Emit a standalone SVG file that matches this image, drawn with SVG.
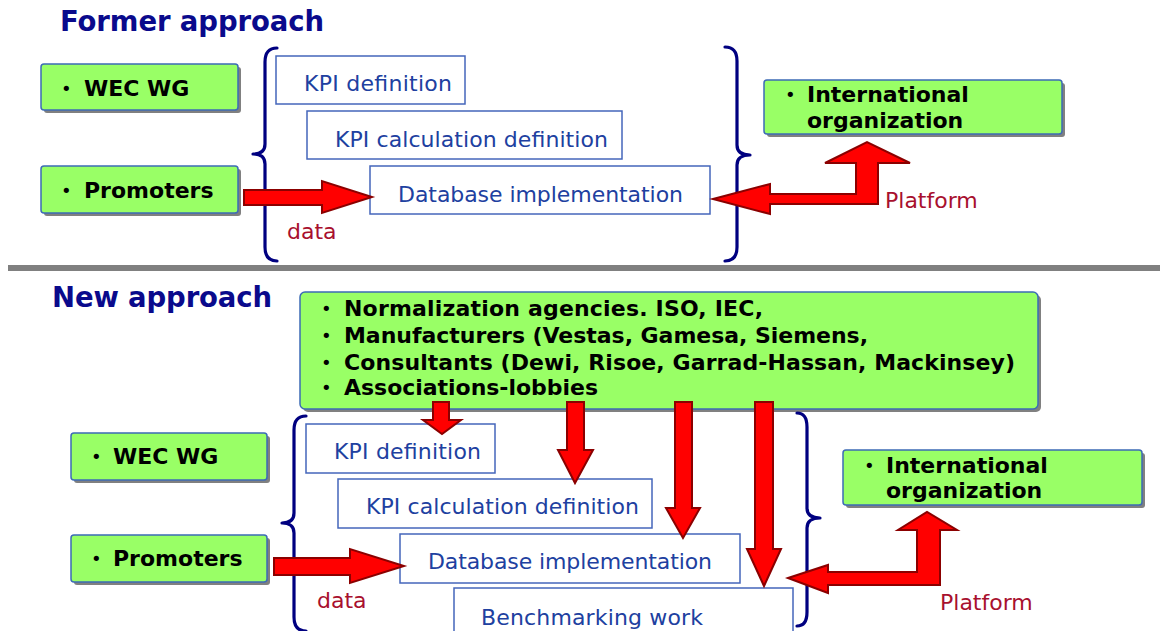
<svg xmlns="http://www.w3.org/2000/svg" width="1160" height="631" viewBox="0 0 1160 631">
<style>
.title{font-family:"DejaVu Sans",Verdana,sans-serif;font-weight:bold;font-size:27.5px;fill:#0a0a8c}
.gb{fill:#99FF66;stroke:#3d6bb5;stroke-width:1.5}
.sh{fill:#808080}
.bt{font-family:"DejaVu Sans",Verdana,sans-serif;font-weight:bold;font-size:22px;fill:#000}
.bul{font-family:"DejaVu Sans",Verdana,sans-serif;font-size:18px;fill:#000}
.wb{fill:#fff;stroke:#4466bb;stroke-width:1.5}
.wt{font-family:"DejaVu Sans",Verdana,sans-serif;font-size:22px;fill:#2040a0}
.lbl{font-family:"DejaVu Sans",Verdana,sans-serif;font-size:22px;fill:#a8102e}
.brace{fill:none;stroke:#000080;stroke-width:3.2;stroke-linecap:round;stroke-linejoin:round}
.arr{fill:#ff0000;stroke:#8b0000;stroke-width:2;stroke-linejoin:miter}
</style>
<rect width="1160" height="631" fill="#fff"/>

<!-- Former approach -->
<text class="title" x="60" y="31" textLength="264">Former approach</text>

<g id="former-wecwg">
<rect class="sh" x="44" y="67" width="197" height="46" rx="3"/>
<rect class="gb" x="41" y="64" width="197" height="46" rx="3"/>
<text class="bul" x="61" y="95">•</text>
<text class="bt" x="84" y="96">WEC WG</text>
</g>
<g id="former-promoters">
<rect class="sh" x="44" y="169" width="197" height="47" rx="3"/>
<rect class="gb" x="41" y="166" width="197" height="47" rx="3"/>
<text class="bul" x="61" y="197">•</text>
<text class="bt" x="84" y="198">Promoters</text>
</g>
<g id="former-brace-left"><path class="brace" d="M277,48 Q265,48 265,62 L265,144 Q265,154 253,154 Q265,154 265,164 L265,247 Q265,261 277,261"/></g>
<g id="former-brace-right"><path class="brace" d="M725,47 Q737,47 737,61 L737,145 Q737,155 750,155 Q737,155 737,165 L737,247 Q737,261 725,261"/></g>
<g id="former-kpidef">
<rect class="wb" x="276" y="56" width="189" height="48"/>
<text class="wt" x="304" y="91" textLength="148">KPI definition</text>
</g>
<g id="former-kpicalc">
<rect class="wb" x="307" y="111" width="315" height="48"/>
<text class="wt" x="335" y="147" textLength="273">KPI calculation definition</text>
</g>
<g id="former-db">
<rect class="wb" x="370" y="166" width="340" height="48"/>
<text class="wt" x="398" y="202" textLength="285">Database implementation</text>
</g>
<g id="former-intl">
<rect class="sh" x="767" y="83" width="298" height="54" rx="3"/>
<rect class="gb" x="764" y="80" width="298" height="54" rx="3"/>
<text class="bul" x="785" y="101">•</text>
<text class="bt" x="807" y="102">International</text>
<text class="bt" x="807" y="128">organization</text>
</g>

<rect x="8" y="265" width="1152" height="6" fill="#808080"/>

<!-- New approach -->
<text class="title" x="52" y="307" textLength="220">New approach</text>

<g id="new-stakeholders">
<rect class="sh" x="303" y="295" width="738" height="117" rx="5"/>
<rect class="gb" x="300" y="292" width="738" height="117" rx="5"/>
<text class="bul" x="321" y="315">•</text>
<text class="bt" x="344" y="316" textLength="419">Normalization agencies. ISO, IEC,</text>
<text class="bul" x="321" y="342">•</text>
<text class="bt" x="344" y="343" textLength="524">Manufacturers (Vestas, Gamesa, Siemens,</text>
<text class="bul" x="321" y="369">•</text>
<text class="bt" x="344" y="370" textLength="671">Consultants (Dewi, Risoe, Garrad-Hassan, Mackinsey)</text>
<text class="bul" x="321" y="394">•</text>
<text class="bt" x="344" y="395" textLength="254">Associations-lobbies</text>
</g>
<g id="new-wecwg">
<rect class="sh" x="74" y="436" width="196" height="47" rx="3"/>
<rect class="gb" x="71" y="433" width="196" height="47" rx="3"/>
<text class="bul" x="91" y="463">•</text>
<text class="bt" x="113" y="464">WEC WG</text>
</g>
<g id="new-promoters">
<rect class="sh" x="74" y="538" width="196" height="47" rx="3"/>
<rect class="gb" x="71" y="535" width="196" height="47" rx="3"/>
<text class="bul" x="91" y="565">•</text>
<text class="bt" x="113" y="566">Promoters</text>
</g>
<g id="new-brace-left"><path class="brace" d="M306,416 Q294,416 294,430 L294,513 Q294,523 282,523 Q294,523 294,533 L294,617 Q294,631 306,631"/></g>
<g id="new-brace-right"><path class="brace" d="M797,413 Q807,413 807,427 L807,508 Q807,518 820,518 Q807,518 807,528 L807,612 Q807,626 797,626"/></g>
<g id="new-kpidef">
<rect class="wb" x="306" y="424" width="189" height="49"/>
<text class="wt" x="334" y="459" textLength="147">KPI definition</text>
</g>
<g id="new-kpicalc">
<rect class="wb" x="338" y="479" width="314" height="49"/>
<text class="wt" x="366" y="514" textLength="273">KPI calculation definition</text>
</g>
<g id="new-db">
<rect class="wb" x="400" y="534" width="340" height="49"/>
<text class="wt" x="428" y="569" textLength="284">Database implementation</text>
</g>
<g id="new-bench">
<rect class="wb" x="454" y="588" width="339" height="60"/>
<text class="wt" x="481" y="625" textLength="222">Benchmarking work</text>
</g>
<g id="new-intl">
<rect class="sh" x="846" y="453" width="299" height="55" rx="3"/>
<rect class="gb" x="843" y="450" width="299" height="55" rx="3"/>
<text class="bul" x="864" y="472">•</text>
<text class="bt" x="886" y="473">International</text>
<text class="bt" x="886" y="498">organization</text>
</g>

<g id="connectors">
<polygon class="arr" points="244,190 322,190 322,181 372,197 322,213 322,205 244,205"/>
<polygon class="arr" points="713,199 770,184 770,194 856,194 856,163 825,163 867,142 910,163 878,163 878,204 770,204 770,214"/>
<polygon class="arr" points="274,558 350,558 350,549 404,566 350,583 350,575 274,575"/>
<polygon class="arr" points="788,578 828,565 828,572 917,572 917,530 898,530 927,512 957,530 940,530 940,585 828,585 828,593"/>
<polygon class="arr" points="433,402 449,402 449,420 461,420 442,434 423,420 433,420"/>
<polygon class="arr" points="567,402 584,402 584,450 593,450 575,483 558,450 567,450"/>
<polygon class="arr" points="675,402 692,402 692,508 700,508 683,538 666,508 675,508"/>
<polygon class="arr" points="755,402 773,402 773,549 781,549 764,586 747,549 755,549"/>
<text class="lbl" x="287" y="239">data</text>
<text class="lbl" x="885" y="208">Platform</text>
<text class="lbl" x="317" y="608">data</text>
<text class="lbl" x="940" y="610">Platform</text>
</g>
</svg>
